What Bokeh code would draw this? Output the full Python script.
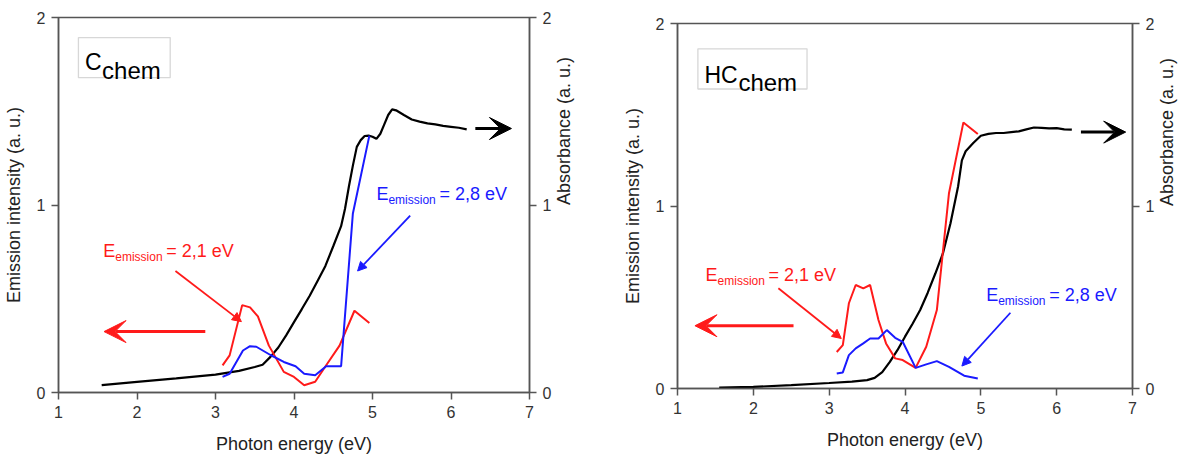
import math
from bokeh.plotting import figure
from bokeh.models import (Range1d, LinearAxis, FixedTicker, Arrow, VeeHead, NormalHead,
                          BoxAnnotation, Spacer)
from bokeh.layouts import row, column
from bokeh.core.properties import value
from bokeh.embed import file_html
from bokeh.resources import INLINE

# ---------------- data ----------------
x_ticks = [1, 2, 3, 4, 5, 6, 7]
y_ticks = [0, 1, 2]

# Left panel (C_chem)
c_abs_e = [1.55, 2.0, 2.5, 3.0, 3.3, 3.5, 3.6, 3.7, 3.8, 3.9, 4.0, 4.1, 4.2, 4.3, 4.4, 4.5, 4.6,
           4.65, 4.7, 4.75, 4.8, 4.85, 4.9, 4.95, 5.0, 5.05, 5.1, 5.15, 5.2, 5.25, 5.3, 5.4,
           5.5, 5.6, 5.7, 5.8, 5.9, 6.0, 6.1, 6.2]
c_abs_v = [0.039, 0.057, 0.075, 0.095, 0.115, 0.136, 0.148, 0.19, 0.24, 0.305, 0.375, 0.445,
           0.516, 0.595, 0.675, 0.78, 0.887, 0.98, 1.10, 1.21, 1.31, 1.346, 1.368, 1.37, 1.364,
           1.353, 1.38, 1.43, 1.48, 1.51, 1.505, 1.48, 1.456, 1.445, 1.435, 1.43, 1.422,
           1.417, 1.412, 1.403]
c_red_e = [3.09, 3.18, 3.34, 3.44, 3.54, 3.68, 3.87, 4.00, 4.13, 4.27, 4.41, 4.58, 4.77, 4.96]
c_red_v = [0.145, 0.198, 0.466, 0.454, 0.406, 0.25, 0.11, 0.083, 0.039, 0.057, 0.145, 0.25,
           0.436, 0.371]
c_blue_e = [3.09, 3.18, 3.35, 3.44, 3.52, 3.70, 3.87, 4.02, 4.13, 4.27, 4.41, 4.60, 4.75, 4.96]
c_blue_v = [0.083, 0.10, 0.224, 0.247, 0.244, 0.20, 0.163, 0.14, 0.10, 0.092, 0.14, 0.14,
            0.955, 1.37]

# Right panel (HC_chem)
h_abs_e = [1.55, 2.0, 2.5, 3.0, 3.3, 3.5, 3.6, 3.7, 3.8, 3.9, 4.0, 4.1, 4.2, 4.3, 4.4, 4.5,
           4.6, 4.7, 4.75, 4.8, 4.9, 5.0, 5.1, 5.2, 5.3, 5.4, 5.5, 5.6, 5.7, 5.8, 5.9, 6.0,
           6.1, 6.2]
h_abs_v = [0.005, 0.009, 0.018, 0.03, 0.038, 0.046, 0.058, 0.09, 0.146, 0.21, 0.284, 0.355,
           0.43, 0.525, 0.63, 0.74, 0.906, 1.107, 1.25, 1.30, 1.345, 1.385, 1.395, 1.40, 1.40,
           1.405, 1.409, 1.42, 1.43, 1.428, 1.425, 1.427, 1.42, 1.418]
h_red_e = [3.10, 3.18, 3.26, 3.35, 3.45, 3.54, 3.65, 3.75, 3.87, 3.97, 4.14, 4.28, 4.42, 4.58,
           4.77, 4.96]
h_red_v = [0.20, 0.238, 0.467, 0.567, 0.549, 0.567, 0.375, 0.247, 0.165, 0.156, 0.113, 0.229,
           0.43, 1.07, 1.458, 1.394]
h_blue_e = [3.10, 3.18, 3.26, 3.35, 3.45, 3.54, 3.65, 3.76, 3.87, 3.97, 4.14, 4.28, 4.42, 4.58,
            4.78, 4.96]
h_blue_v = [0.082, 0.088, 0.183, 0.22, 0.247, 0.274, 0.274, 0.32, 0.278, 0.256, 0.113, 0.132,
            0.15, 0.119, 0.07, 0.055]

FONT = "Liberation Sans"
RED = "#ff1a1a"
BLUE = "#1a1aff"
AXC = "#555555"


def make_panel(width, height, borders, abs_e, abs_v, red_e, red_v, blue_e, blue_v, ann):
    bl, br, bt, bb = borders
    p = figure(width=width, height=height, x_range=Range1d(1, 7), y_range=Range1d(0, 2),
               output_backend="svg", toolbar_location=None,
               min_border_left=bl, min_border_right=br, min_border_top=bt, min_border_bottom=bb)
    p.extra_y_ranges = {"abs": Range1d(0, 2)}
    p.grid.visible = False
    p.outline_line_color = AXC
    p.outline_line_width = 1.5
    p.background_fill_color = "white"
    p.border_fill_color = "white"

    raxis = LinearAxis(y_range_name="abs", axis_label="Absorbance (a. u.)")
    p.add_layout(raxis, "right")
    try:
        raxis.axis_label_orientation = math.pi / 2
    except Exception:
        pass

    for ax in [p.xaxis[0], p.yaxis[0], raxis]:
        ax.axis_line_color = AXC
        ax.axis_line_width = 1.5
        ax.major_tick_line_color = AXC
        ax.major_tick_line_width = 1.5
        ax.major_tick_out = 7
        ax.major_tick_in = 0
        ax.minor_tick_line_color = None
        ax.major_label_text_font = FONT
        ax.major_label_text_font_size = "16px"
        ax.major_label_text_color = "#333333"
        ax.axis_label_text_font = FONT
        ax.axis_label_text_font_size = "18px"
        ax.axis_label_text_font_style = "normal"
        ax.axis_label_text_color = "#222222"
        ax.major_label_standoff = 6
        ax.axis_label_standoff = 10
    p.xaxis[0].axis_label_standoff = 13
    p.xaxis[0].ticker = FixedTicker(ticks=x_ticks)
    p.yaxis[0].ticker = FixedTicker(ticks=y_ticks)
    raxis.ticker = FixedTicker(ticks=y_ticks)
    p.xaxis[0].axis_label = "Photon energy (eV)"
    p.yaxis[0].axis_label = "Emission intensity (a. u.)"

    p.line(abs_e, abs_v, y_range_name="abs", line_color="black", line_width=2.2)
    p.line(red_e, red_v, line_color=RED, line_width=2)
    p.line(blue_e, blue_v, line_color=BLUE, line_width=2)

    # sample box
    bx0, bx1, by0, by1 = ann["box"]
    p.add_layout(BoxAnnotation(left=bx0, right=bx1, bottom=by0, top=by1,
                               fill_color="white", fill_alpha=1.0,
                               line_color="#7a7a7a", line_width=1.3, level="underlay"))
    tx, ty, main, sub_dx = ann["name"]
    p.text(x=[tx], y=[ty], text=[main], text_font=value(FONT), text_font_size="23px",
           text_color="black", text_baseline="alphabetic", text_align="left")
    p.text(x=[tx], y=[ty], text=["chem"], text_font=value(FONT), text_font_size="24px",
           text_color="black", text_baseline="alphabetic", text_align="left",
           x_offset=sub_dx, y_offset=8)

    # E_emission labels
    for (lx, ly, txt, col) in ann["labels"]:
        p.text(x=[lx], y=[ly], text=["E"], text_font=value(FONT), text_font_size="18px",
               text_color=col, text_baseline="alphabetic", text_align="left")
        p.text(x=[lx], y=[ly], text=["emission"], text_font=value(FONT),
               text_font_size="12px", text_color=col, text_baseline="alphabetic",
               text_align="left", x_offset=12, y_offset=6)
        p.text(x=[lx], y=[ly], text=[txt], text_font=value(FONT), text_font_size="18px",
               text_color=col, text_baseline="alphabetic", text_align="left", x_offset=63)

    # thin pointer arrows
    for (x0, y0, x1, y1, col) in ann["pointers"]:
        p.add_layout(Arrow(end=NormalHead(size=9, fill_color=col, line_color=col),
                           x_start=x0, y_start=y0, x_end=x1, y_end=y1,
                           line_color=col, line_width=1.8))
    # big axis arrows
    for (x0, y0, x1, y1, col, y_name) in ann["big"]:
        p.add_layout(Arrow(end=VeeHead(size=22, fill_color=col, line_color=col),
                           x_start=x0, y_start=y0, x_end=x1, y_end=y1,
                           line_color=col, line_width=3,
                           y_range_name=y_name))
    return p


left_ann = {
    "box": (1.254, 2.423, 1.679, 1.893),
    "name": (1.338, 1.761, "C", 17),
    "labels": [(1.57, 0.755, "= 2,1 eV", RED), (5.05, 1.06, "= 2,8 eV", BLUE)],
    "pointers": [(2.49, 0.648, 3.33, 0.378, RED), (5.48, 0.943, 4.81, 0.648, BLUE)],
    "big": [(2.87, 0.325, 1.58, 0.325, RED, "default"),
            (6.31, 1.408, 6.77, 1.408, "black", "abs")],
}
right_ann = {
    "box": (1.269, 2.708, 1.641, 1.861),
    "name": (1.355, 1.72, "HC", 34),
    "labels": [(1.37, 0.62, "= 2,1 eV", RED), (5.07, 0.51, "= 2,8 eV", BLUE)],
    "pointers": [(2.33, 0.549, 3.16, 0.274, RED), (5.39, 0.415, 4.75, 0.123, BLUE)],
    "big": [(2.53, 0.344, 1.23, 0.344, RED, "default"),
            (6.32, 1.405, 6.91, 1.405, "black", "abs")],
}

p1 = make_panel(599, 456, (57, 70, 17, 50), c_abs_e, c_abs_v, c_red_e, c_red_v,
                c_blue_e, c_blue_v, left_ann)
p2 = make_panel(591, 451, (78, 58, 22, 50), h_abs_e, h_abs_v, h_red_e, h_red_v,
                h_blue_e, h_blue_v, right_ann)

layout = row(p1, column(Spacer(width=591, height=1), p2))
open("out.html", "w").write(file_html(layout, INLINE))
